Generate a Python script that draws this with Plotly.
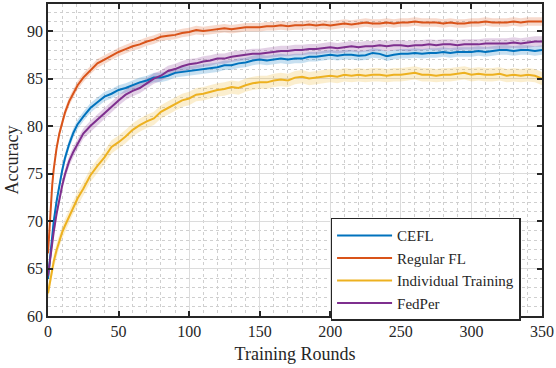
import plotly.graph_objects as go

# %%
rounds = [0, 1, 2, 3, 4, 6, 8, 10, 12, 15, 18, 21] + list(range(25, 351, 5))

cefl = [
    63.9, 65.6, 67.2, 68.6, 69.9, 72.0, 73.8, 75.3, 76.6, 78.1, 79.3, 80.2,
    81.0, 81.9, 82.5, 83.1, 83.4, 83.8, 84.0, 84.3, 84.6, 84.8, 85.1, 85.1,
    85.3, 85.6, 85.7, 85.8, 85.9, 86.0, 86.1, 86.2, 86.4, 86.4, 86.6, 86.7,
    86.9, 87.0, 86.9, 87.0, 87.1, 87.0, 87.1, 87.1, 87.3, 87.3, 87.4, 87.5,
    87.4, 87.5, 87.5, 87.4, 87.45, 87.7, 87.6, 87.35, 87.5, 87.6, 87.6, 87.7,
    87.6, 87.7, 87.7, 87.8, 87.7, 87.8, 87.8, 87.8, 87.9, 87.8, 87.9, 88.0,
    88.0, 87.9, 88.0, 88.0, 87.9, 88.0,
]
regular_fl = [
    66.6, 69.3, 71.8, 73.8, 75.4, 77.6, 79.2, 80.4, 81.4, 82.6, 83.5, 84.3,
    85.1, 85.9, 86.6, 87.0, 87.4, 87.8, 88.1, 88.4, 88.6, 88.9, 89.1, 89.4,
    89.5, 89.6, 89.8, 89.9, 90.1, 90.0, 90.1, 90.2, 90.3, 90.2, 90.3, 90.4,
    90.4, 90.4, 90.5, 90.5, 90.6, 90.5, 90.6, 90.6, 90.7, 90.6, 90.7, 90.6,
    90.7, 90.8, 90.7, 90.8, 90.9, 90.8, 90.8, 90.9, 90.8, 90.9, 90.9, 91.0,
    90.9, 90.9, 90.9, 90.8, 90.9, 90.8, 90.8, 90.9, 90.9, 91.0, 90.9, 90.9,
    90.9, 91.0, 90.9, 91.0, 91.0, 91.0,
]
individual = [
    62.4, 63.3, 64.1, 64.9, 65.7, 66.9, 67.9, 68.8, 69.5, 70.5, 71.5, 72.4,
    73.4, 74.8, 75.8, 76.7, 77.8, 78.3, 78.9, 79.6, 80.1, 80.5, 80.8, 81.5,
    81.9, 82.3, 82.7, 82.9, 83.3, 83.4, 83.6, 83.8, 83.9, 84.1, 84.0, 84.3,
    84.5, 84.6, 84.6, 84.8, 84.9, 84.8, 85.1, 85.2, 85.0, 85.1, 85.2, 85.3,
    85.2, 85.4, 85.3, 85.4, 85.3, 85.4, 85.4, 85.3, 85.4, 85.4, 85.5, 85.6,
    85.4, 85.4, 85.3, 85.4, 85.4, 85.5, 85.6, 85.4, 85.5, 85.4, 85.4, 85.5,
    85.3, 85.4, 85.3, 85.4, 85.3, 85.0,
]
fedper = [
    64.2, 65.5, 66.7, 67.8, 68.8, 70.7, 72.3, 73.7, 74.9, 76.3, 77.3, 78.1,
    79.2, 80.0, 80.7, 81.4, 82.0, 82.7, 83.3, 83.7, 84.0, 84.5, 85.0, 85.3,
    85.8, 86.0, 86.3, 86.5, 86.6, 86.8, 86.9, 87.1, 87.1, 87.3, 87.4, 87.5,
    87.6, 87.6, 87.7, 87.8, 87.9, 87.9, 88.0, 88.0, 88.1, 88.1, 88.2, 88.3,
    88.2, 88.3, 88.4, 88.3, 88.4, 88.4, 88.5, 88.4, 88.5, 88.5, 88.4, 88.5,
    88.5, 88.6, 88.5, 88.6, 88.6, 88.5, 88.6, 88.6, 88.6, 88.7, 88.7, 88.7,
    88.7, 88.8, 88.7, 88.8, 88.9, 88.9,
]

# spread of the shaded band around each mean curve
spread = {"CEFL": 0.5, "Regular FL": 0.45, "Individual Training": 0.7, "FedPer": 0.55}

series = [
    ("CEFL", cefl, (0, 114, 189)),
    ("Regular FL", regular_fl, (217, 83, 25)),
    ("Individual Training", individual, (237, 177, 32)),
    ("FedPer", fedper, (126, 47, 142)),
]

# %%
fig = go.Figure()

for name, vals, (r, g, b) in series:
    s = spread[name]
    upper = [v + s for v in vals]
    lower = [v - s for v in vals]
    fig.add_trace(go.Scatter(
        x=rounds + rounds[::-1],
        y=upper + lower[::-1],
        fill="toself",
        fillcolor=f"rgba({r},{g},{b},0.22)",
        line=dict(width=0),
        hoverinfo="skip",
        showlegend=False,
    ))

for name, vals, (r, g, b) in series:
    fig.add_trace(go.Scatter(
        x=rounds,
        y=vals,
        mode="lines",
        name=name,
        line=dict(color=f"rgb({r},{g},{b})", width=2),
    ))

axis_common = dict(
    showline=True,
    linecolor="#262626",
    linewidth=1.5,
    mirror="ticks",
    ticks="inside",
    ticklen=5,
    tickwidth=1.5,
    tickcolor="#262626",
    showgrid=True,
    gridcolor="#dcdcdc",
    gridwidth=1,
    zeroline=False,
    tickfont=dict(size=16, color="#262626"),
)

fig.update_layout(
    width=556,
    height=368,
    margin=dict(l=48, r=13, t=2, b=52),
    paper_bgcolor="white",
    plot_bgcolor="white",
    font=dict(family="Liberation Serif, Times New Roman, serif", color="#262626"),
    xaxis=dict(
        range=[0, 350],
        tickvals=[0, 50, 100, 150, 200, 250, 300, 350],
        title=dict(text="Training Rounds", font=dict(size=18), standoff=8),
        minor=dict(dtick=10, showgrid=True, gridcolor="#cfcfcf", griddash="dot", gridwidth=1),
        **axis_common,
    ),
    yaxis=dict(
        range=[60, 92.85],
        tickvals=[60, 65, 70, 75, 80, 85, 90],
        title=dict(text="Accuracy", font=dict(size=18), standoff=4),
        minor=dict(dtick=1, tick0=60, showgrid=True, gridcolor="#cfcfcf", griddash="dot", gridwidth=1),
        **axis_common,
    ),
    legend=dict(
        x=0.572,
        y=0.315,
        xanchor="left",
        yanchor="top",
        bgcolor="white",
        bordercolor="#262626",
        borderwidth=1.5,
        font=dict(size=15, color="#262626"),
        itemwidth=55,
        tracegroupgap=0,
    ),
)

fig.write_html(
    "out.html",
    config={"displayModeBar": False},
    post_script="document.body.style.margin='0';",
)
